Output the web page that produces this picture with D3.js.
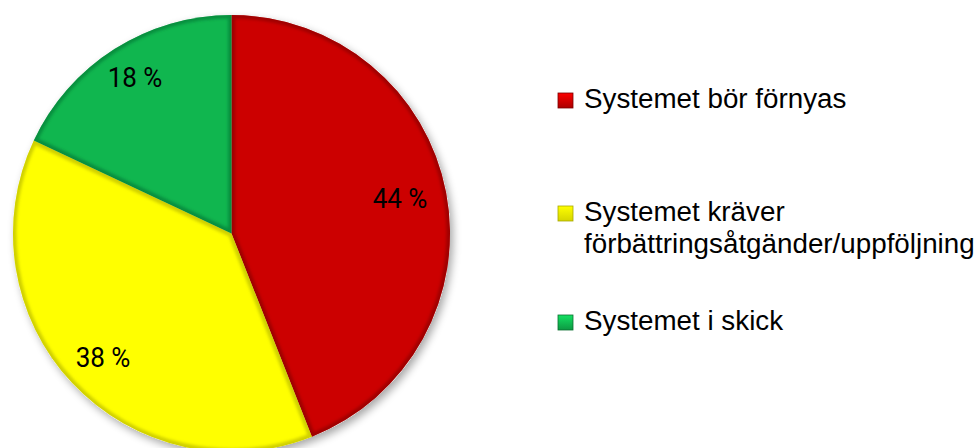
<!DOCTYPE html>
<html>
<head>
<meta charset="utf-8">
<script src="https://cdn.jsdelivr.net/npm/d3@7"></script>
<style>
  html, body { margin: 0; padding: 0; background: #fff; }
  svg { display: block; }
</style>
</head>
<body>
<svg id="chart" width="980" height="448"></svg>
<script>
// Survey result: condition of the systems
const categories = ["Systemet bör förnyas", "Systemet kräver förbättringsåtgänder/uppföljning", "Systemet i skick"];
const legendLines = [["Systemet bör förnyas"], ["Systemet kräver", "förbättringsåtgänder/uppföljning"], ["Systemet i skick"]];
const values = [44, 38, 18];
const colors = ["#cc0000", "#ffff00", "#10b64f"];
const darkColors = ["#7a0000", "#a8a800", "#0a6e30"];

const svg = d3.select("#chart");
const cx = 231.5, cy = 233.5, radius = 218.5;

const defs = svg.append("defs");

// soft shadow beneath the pie
const sh = defs.append("filter").attr("id", "shadow").attr("x", "-20%").attr("y", "-20%").attr("width", "140%").attr("height", "140%");
sh.append("feGaussianBlur").attr("in", "SourceAlpha").attr("stdDeviation", 4);
sh.append("feOffset").attr("dx", 3).attr("dy", 4).attr("result", "b");
sh.append("feComponentTransfer").append("feFuncA").attr("type", "linear").attr("slope", 0.35);
const shm = sh.append("feMerge");
shm.append("feMergeNode");
shm.append("feMergeNode").attr("in", "SourceGraphic");

// bevel blur for slice edges
const bv = defs.append("filter").attr("id", "bevel").attr("x", "-10%").attr("y", "-10%").attr("width", "120%").attr("height", "120%");
bv.append("feGaussianBlur").attr("stdDeviation", 1.6);

const pie = d3.pie().sort(null).value(d => d);
const arcs = pie(values);
const arc = d3.arc().innerRadius(0).outerRadius(radius);

const g = svg.append("g").attr("transform", `translate(${cx},${cy})`);

// shadow layer
g.append("circle").attr("r", radius).attr("fill", "#fff").attr("filter", "url(#shadow)");

arcs.forEach((a, i) => {
  const clipId = "clip" + i;
  defs.append("clipPath").attr("id", clipId)
    .append("path").attr("d", arc(a)).attr("transform", `translate(${cx},${cy})`);
  g.append("path").attr("d", arc(a)).attr("fill", colors[i]);
  // darker rim inside each slice to give a beveled look
  svg.append("g").attr("clip-path", `url(#${clipId})`)
    .append("path")
    .attr("transform", `translate(${cx},${cy})`)
    .attr("d", arc(a))
    .attr("fill", "none")
    .attr("stroke", darkColors[i])
    .attr("stroke-opacity", 0.55)
    .attr("stroke-width", 7)
    .attr("filter", "url(#bevel)");
});

// value labels (baseline positions inside each slice)
const labelPos = [[400, 208], [103, 367], [135, 87]];
svg.selectAll("text.val").data(arcs).join("text")
  .attr("class", "val")
  .attr("text-anchor", "middle")
  .attr("transform", (d, i) => `translate(${labelPos[i][0]},${labelPos[i][1]}) scale(0.93,1)`)
  .attr("font-family", "Roboto, 'Open Sans', sans-serif")
  .attr("font-size", 28)
  .attr("fill", "#000")
  .text(d => d.data + " %");

// legend
const legendBase = [108, 221, 330];
const lineGap = 32;
const textX = 584;
const lg = svg.append("g");
const grads = colors.map((c, i) => {
  const gr = defs.append("linearGradient").attr("id", "lgr" + i).attr("x1", 0).attr("y1", 0).attr("x2", 0).attr("y2", 1);
  gr.append("stop").attr("offset", 0).attr("stop-color", d3.color(c).brighter(0.6));
  gr.append("stop").attr("offset", 1).attr("stop-color", d3.color(c).darker(0.5));
  return "url(#lgr" + i + ")";
});
const texts = [];
categories.forEach((c, i) => {
  const y = legendBase[i];
  lg.append("rect").attr("x", 558).attr("y", y - 15).attr("width", 15).attr("height", 15)
    .attr("fill", grads[i]).attr("stroke", darkColors[i]).attr("stroke-width", 0.8);
  // one text element per entry; wrapped lines become tspans
  const t = lg.append("text")
    .attr("font-family", "'Liberation Sans', Arial, sans-serif")
    .attr("font-size", 28)
    .attr("fill", "#000")
    .attr("data-y", y);
  legendLines[i].forEach((line, j) => {
    t.append("tspan").attr("x", 0).attr("dy", j === 0 ? 0 : lineGap).text(line);
  });
  texts.push(t);
});
// narrow the legend type so the longest line fits the right margin
const longest = d3.max(texts, t => d3.max(t.selectAll("tspan").nodes(), n => n.getComputedTextLength()));
const sx = Math.min(1, (975 - textX) / longest);
texts.forEach(t => t.attr("transform", `translate(${textX},${t.attr("data-y")}) scale(${sx},1)`));
</script>
</body>
</html>
